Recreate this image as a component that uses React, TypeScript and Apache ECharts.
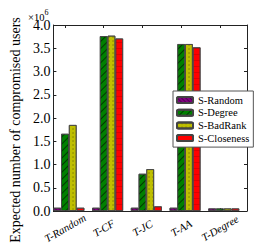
import React, { useEffect, useRef } from "react";
import * as echarts from "echarts";

const categories = ["T-Random", "T-CF", "T-JC", "T-AA", "T-Degree"];
const seriesNames = ["S-Random", "S-Degree", "S-BadRank", "S-Closeness"];
const sRandom = [0.07e6, 0.07e6, 0.07e6, 0.07e6, 0.055e6];
const sDegree = [1.66e6, 3.76e6, 0.8e6, 3.59e6, 0.055e6];
const sBadRank = [1.85e6, 3.77e6, 0.9e6, 3.59e6, 0.055e6];
const sCloseness = [0.07e6, 3.71e6, 0.1e6, 3.52e6, 0.055e6];
const yTicks = [0, 0.5, 1.0, 1.5, 2.0, 2.5, 3.0, 3.5, 4.0];

const colors = ["#800080", "#008000", "#bfbf00", "#ff0000"];

export default function App() {
  const ref = useRef<HTMLDivElement>(null);
  useEffect(() => {
    if (!ref.current) return;
    document.body.style.margin = "0";
    const chart = echarts.init(ref.current, null, { renderer: "svg" });
    const seriesValues = [sRandom, sDegree, sBadRank, sCloseness];
    const slots = Array.from({ length: 51 }, (_, k) => String(k));
    const isTick = (idx: number) => idx % 10 === 3;
    const serif = "'Liberation Serif', serif";
    const decals: any[] = [
      { symbol: "rect", symbolSize: 1, dashArrayX: [1, 0], dashArrayY: [1, 2], rotation: Math.PI / 4, color: "rgba(0,0,0,0.35)" },
      { symbol: "rect", symbolSize: 1, dashArrayX: [1, 0], dashArrayY: [1, 4], rotation: -Math.PI / 4, color: "rgba(0,0,0,0.55)" },
      { symbol: "circle", symbolSize: 0.6, dashArrayX: [2, 2], dashArrayY: [2, 2], rotation: 0, color: "rgba(90,90,0,0.8)" },
      { symbol: "rect", symbolSize: 1, dashArrayX: [1, 0], dashArrayY: [1, 5], rotation: 0, color: "rgba(160,0,0,0.35)" },
    ];
    const maxY = yTicks[yTicks.length - 1] * 1e6;
    chart.setOption({
      animation: false,
      grid: { left: 27, right: 27, top: 25, bottom: 38 },
      legend: {
        data: seriesNames,
        orient: "vertical",
        left: 173,
        top: 91,
        padding: [3, 4, 3, 3],
        itemWidth: 16,
        itemHeight: 6,
        itemGap: 0.7,
        backgroundColor: "#fff",
        borderColor: "#555",
        borderWidth: 1,
        textStyle: { fontFamily: serif, fontSize: 10.5, lineHeight: 12, color: "#000" },
      },
      graphic: [
        {
          type: "text",
          left: 28,
          top: 8,
          style: {
            text: "{a|×10}{b|6}",
            rich: {
              a: { fontFamily: serif, fontSize: 10.5, color: "#000", verticalAlign: "bottom", lineHeight: 15 },
              b: { fontFamily: serif, fontSize: 8, color: "#000", verticalAlign: "top", lineHeight: 15 },
            },
          },
        },
      ],
      xAxis: [
        { type: "value", min: 0, max: categories.length, show: false },
        {
          type: "category",
          position: "bottom",
          boundaryGap: false,
          data: slots,
          axisLine: { show: true, lineStyle: { color: "#222", width: 1 } },
          axisTick: { show: true, inside: true, length: 3, interval: (i: number) => isTick(i), lineStyle: { color: "#222" } },
          axisLabel: {
            interval: (i: number) => isTick(i),
            formatter: (_: string, i: number) => categories[(i - 3) / 10] ?? "",
            rotate: 30,
            align: "center",
            verticalAlign: "middle",
            margin: 17,
            fontFamily: serif,
            fontStyle: "italic",
            fontSize: 11,
            color: "#000",
          },
          splitLine: { show: false },
        },
        {
          type: "category",
          position: "top",
          boundaryGap: false,
          data: slots,
          axisLine: { show: true, lineStyle: { color: "#222", width: 1 } },
          axisTick: { show: true, inside: true, length: 3, interval: (i: number) => isTick(i), lineStyle: { color: "#222" } },
          axisLabel: { show: false },
          splitLine: { show: false },
        },
      ],
      yAxis: [
        {
          type: "value",
          min: 0,
          max: maxY,
          interval: 0.5e6,
          position: "left",
          name: "Expected number of compromised users",
          nameLocation: "middle",
          nameRotate: 90,
          nameGap: 23,
          nameTextStyle: { fontFamily: serif, fontSize: 14, color: "#000", padding: [0, 24, 0, 0] },
          axisLine: { show: true, lineStyle: { color: "#222", width: 1 } },
          axisTick: { show: true, inside: true, length: 3, lineStyle: { color: "#222" } },
          axisLabel: {
            formatter: (v: number) => (v / 1e6).toFixed(1),
            fontFamily: serif,
            fontSize: 14,
            color: "#000",
            margin: 3,
          },
          splitLine: { show: false },
        },
        {
          type: "value",
          min: 0,
          max: maxY,
          interval: 0.5e6,
          position: "right",
          axisLine: { show: true, lineStyle: { color: "#222", width: 1 } },
          axisTick: { show: true, inside: true, length: 3, lineStyle: { color: "#222" } },
          axisLabel: { show: false },
          splitLine: { show: false },
        },
      ],
      series: seriesNames.map((name, s) => ({
        name,
        type: "bar",
        xAxisIndex: 0,
        yAxisIndex: 0,
        barWidth: "20%",
        barGap: "0%",
        data: seriesValues[s].map((v, i) => [i + 0.4, v]),
        itemStyle: {
          color: colors[s],
          borderColor: "#444",
          borderWidth: 0.8,
          decal: decals[s],
        },
      })),
    });
    return () => chart.dispose();
  }, []);
  return <div ref={ref} style={{ width: 274, height: 249 }} />;
}
